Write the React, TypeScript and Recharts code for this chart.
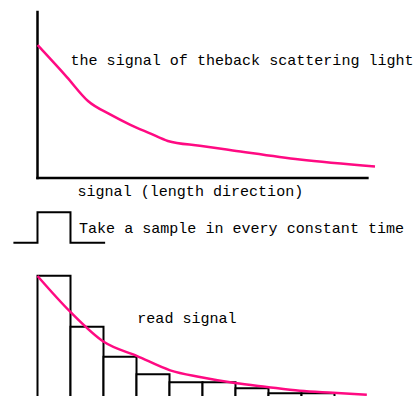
import React from "react";
import {
  LineChart,
  Line,
  BarChart,
  Bar,
  XAxis,
  YAxis,
  ReferenceLine,
  Customized,
} from "recharts";

// ---- data ----
// top: continuous back-scattering signal along the fibre (length units = sample intervals)
const topX = [0, 0.89, 1.53, 2.2, 2.8, 3.41, 3.95, 4.92, 5.92, 7.95, 10.23];
const topY = [80.1, 60.8, 46.4, 38.3, 32.2, 26.9, 22.3, 19.4, 16.6, 11.1, 6.9];

// middle: sampling pulse (low / high)
const pulseX = [-0.73, 0, 1, 2.05];
const pulseY = [0, 1, 0, 0];

// bottom: sampled values (one per constant time interval)
const sampleLabels = ["1", "2", "3", "4", "5", "6", "7", "8", "9", "10"];
const sampleValues = [88.8, 52.4, 30.9, 18.4, 12.6, 12.6, 8.4, 4.8, 4.8, null];

// bottom: read signal curve
const readX = [0, 0.99, 2.02, 3.02, 4.02, 4.92, 5.98, 6.95, 7.95, 8.95, 9.98];
const readY = [88.6, 63.1, 41.4, 31.4, 21.2, 16.4, 12.1, 9.3, 6.6, 5.2, 3.8];

const texts = {
  top: "the signal of theback scattering light",
  axis: "signal (length direction)",
  pulse: "Take a sample in every constant time",
  read: "read signal",
};

const topData = topX.map((x, i) => ({ x, y: topY[i] }));
const pulseData = pulseX.map((x, i) => ({ x, y: pulseY[i] }));
const barData = sampleLabels.map((name, i) => ({ name, v: sampleValues[i] }));
const readData = readX.map((x, i) => ({ x, y: readY[i] }));

const PINK = "#ff0a82";
const FONT = "'Liberation Mono', 'DejaVu Sans Mono', monospace";
const CHAR_W = 9.03;

function Txt({ x, y, s }: { x: number; y: number; s: string }) {
  return (
    <text
      x={x}
      y={y}
      fontFamily={FONT}
      fontSize={15}
      fill="#000"
      textLength={s.length * CHAR_W}
      lengthAdjust="spacingAndGlyphs"
    >
      {s}
    </text>
  );
}

const abs = (top: number): React.CSSProperties => ({
  position: "absolute",
  left: 0,
  top,
});

export default function App() {
  return (
    <div
      style={{
        position: "absolute",
        left: 0,
        top: 0,
        width: 420,
        height: 396,
        overflow: "hidden",
        background: "#fff",
      }}
    >
      {/* top chart */}
      <div style={abs(0)}>
        <LineChart
          width={420}
          height={200}
          data={topData}
          margin={{ top: 12, left: 37.5, right: 45, bottom: 22 }}
        >
          <XAxis dataKey="x" type="number" domain={[0, 10.23]} hide />
          <YAxis type="number" domain={[0, 100]} hide />
          <ReferenceLine
            segment={[
              { x: 0, y: 0 },
              { x: 0, y: 100 },
            ]}
            stroke="#000"
            strokeWidth={2.5}
            strokeLinecap="square"
          />
          <ReferenceLine
            segment={[
              { x: 0, y: 0 },
              { x: 10, y: 0 },
            ]}
            stroke="#000"
            strokeWidth={2.5}
            strokeLinecap="square"
          />
          <Line
            type="monotone"
            dataKey="y"
            stroke={PINK}
            strokeWidth={2.5}
            dot={false}
            isAnimationActive={false}
          />
          <Customized
            component={() => (
              <g>
                <Txt x={70.5} y={65} s={texts.top} />
                <Txt x={77.5} y={196} s={texts.axis} />
              </g>
            )}
          />
        </LineChart>
      </div>

      {/* pulse */}
      <div style={abs(200)}>
        <LineChart
          width={420}
          height={60}
          data={pulseData}
          margin={{ top: 12.3, left: 0, right: 45, bottom: 17.3 }}
        >
          <XAxis dataKey="x" type="number" domain={[-37.5 / 33, 10.23]} hide />
          <YAxis type="number" domain={[0, 1]} hide />
          <Line
            type="stepAfter"
            dataKey="y"
            stroke="#000"
            strokeWidth={2}
            dot={false}
            isAnimationActive={false}
          />
          <Customized
            component={() => <Txt x={79} y={33.3} s={texts.pulse} />}
          />
        </LineChart>
      </div>

      {/* bottom samples */}
      <div style={abs(250)}>
        <BarChart
          width={420}
          height={160}
          data={barData}
          margin={{ top: 10, left: 37.5, right: 52.5, bottom: 10 }}
          barCategoryGap={0}
        >
          <XAxis dataKey="name" hide />
          <YAxis type="number" domain={[0, 100]} hide />
          <Bar
            dataKey="v"
            fill="#fff"
            stroke="#000"
            strokeWidth={2}
            isAnimationActive={false}
          />
        </BarChart>
      </div>
      <div style={abs(250)}>
        <LineChart
          width={420}
          height={160}
          data={readData}
          margin={{ top: 10, left: 37.5, right: 52.5, bottom: 10 }}
        >
          <XAxis dataKey="x" type="number" domain={[0, 10]} hide />
          <YAxis type="number" domain={[0, 100]} hide />
          <Line
            type="monotone"
            dataKey="y"
            stroke={PINK}
            strokeWidth={2.5}
            dot={false}
            isAnimationActive={false}
          />
          <Customized
            component={() => <Txt x={137.3} y={73.3} s={texts.read} />}
          />
        </LineChart>
      </div>
    </div>
  );
}
